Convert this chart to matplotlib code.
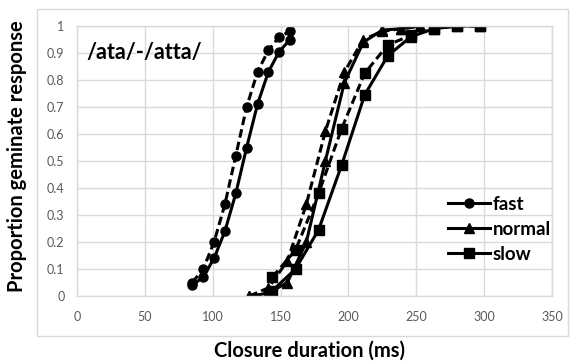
import matplotlib.pyplot as plt
from matplotlib.patches import Rectangle

plt.rcParams['font.family'] = ['Lato', 'DejaVu Sans']

# fast
fast_x = [85, 93, 101, 109, 117, 125, 133, 141, 149, 157]
fast_solid = [0.04, 0.07, 0.14, 0.24, 0.38, 0.55, 0.71, 0.83, 0.905, 0.95]
fast_dash = [0.05, 0.10, 0.20, 0.34, 0.52, 0.70, 0.83, 0.91, 0.96, 0.98]

# normal
normal_x = [127, 141, 155, 169, 183, 197, 211, 225, 239, 253]
normal_solid = [0.0, 0.01, 0.05, 0.20, 0.50, 0.79, 0.94, 0.985, 0.99, 1.0]
normal_dash = [0.0, 0.03, 0.13, 0.34, 0.61, 0.83, 0.95, 0.98, 0.99, 1.0]

# slow
slow_x = [144, 161, 178, 195, 212, 229, 246, 263, 280, 297]
slow_solid = [0.02, 0.10, 0.245, 0.485, 0.745, 0.89, 0.96, 0.99, 1.0, 1.0]
slow_dash = [0.07, 0.17, 0.38, 0.62, 0.825, 0.93, 0.965, 0.99, 1.0, 1.0]

x_ticks = [0, 50, 100, 150, 200, 250, 300, 350]
y_ticks = [0, 0.1, 0.2, 0.3, 0.4, 0.5, 0.6, 0.7, 0.8, 0.9, 1]
y_labels = ['0', '0.1', '0.2', '0.3', '0.4', '0.5', '0.6', '0.7', '0.8', '0.9', '1']

W, H = 578, 363
fig = plt.figure(figsize=(W / 100, H / 100), dpi=100)
ax = fig.add_axes([77 / W, 1 - 296 / H, 475 / W, 270 / H])

# outer chart border
fig.patches.append(Rectangle((37 / W, 1 - 336 / H), 531 / W, 327 / H,
                             transform=fig.transFigure, fill=False,
                             edgecolor='#d9d9d9', linewidth=1))

solid_kw = dict(color='black', linewidth=2.2, linestyle='-', markersize=6.5)
dash_kw = dict(color='black', linewidth=2.2, linestyle=(0, (2.8, 1.4)), markersize=6.5)

l1, = ax.plot(fast_x, fast_solid, marker='o', **solid_kw)
ax.plot(fast_x, fast_dash, marker='o', **dash_kw)
l2, = ax.plot(normal_x, normal_solid, marker='^', **solid_kw)
ax.plot(normal_x, normal_dash, marker='^', **dash_kw)
l3, = ax.plot(slow_x, slow_solid, marker='s', **solid_kw)
ax.plot(slow_x, slow_dash, marker='s', **dash_kw)

ax.set_xlim(0, 350)
ax.set_ylim(0, 1)
ax.set_xticks(x_ticks)
ax.set_yticks(y_ticks)
ax.set_yticklabels(y_labels)
ax.tick_params(length=0, labelsize=9, labelcolor='#595959')
ax.tick_params(axis='x', pad=11)
ax.tick_params(axis='y', pad=9)
ax.grid(color='#d9d9d9', linewidth=1)
ax.set_axisbelow(True)
for s in ax.spines.values():
    s.set_color('#d9d9d9')
    s.set_linewidth(1)

ax.text(7, 0.9, '/ata/-/atta/', fontsize=15.5, fontweight='bold', va='center', ha='left')

ax.legend(handles=[l1, l2, l3], labels=['fast', 'normal', 'slow'],
          loc='upper left', bbox_to_anchor=(0.762, 0.405), borderpad=0,
          frameon=False, prop={'weight': 'bold', 'size': 13.5},
          handlelength=2.2, labelspacing=0.42, handletextpad=0.15)

fig.text(17 / W, 1 - 156 / H, 'Proportion geminate response', rotation=90,
         fontsize=14.5, fontweight='bold', ha='center', va='center')
fig.text(309 / W, 1 - 351 / H, 'Closure duration (ms)',
         fontsize=14.5, fontweight='bold', ha='center', va='center')

plt.savefig('out.png', dpi=100)
